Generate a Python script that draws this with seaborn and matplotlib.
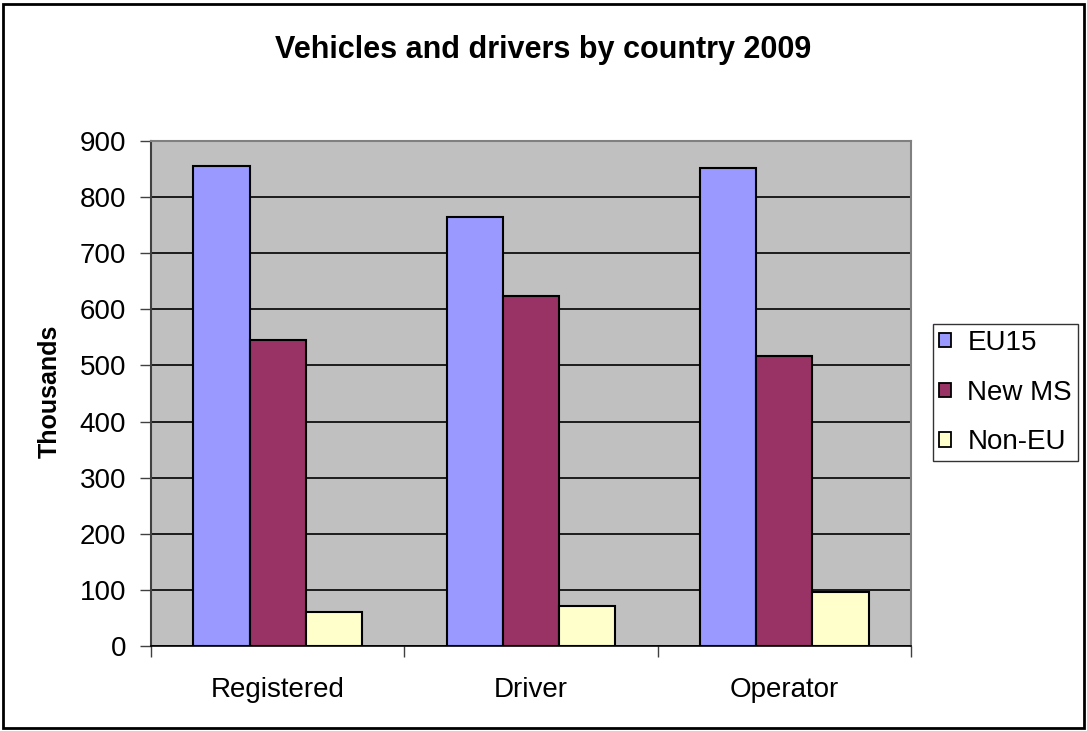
import matplotlib
matplotlib.use("Agg")
import matplotlib.pyplot as plt
from matplotlib.patches import Rectangle
import seaborn as sns
import pandas as pd

categories = ["Registered", "Driver", "Operator"]
series = ["EU15", "New MS", "Non-EU"]
eu15 = [855, 765, 851]
new_ms = [545, 623, 516]
non_eu = [60, 71, 96]
colors = ["#9999FF", "#993366", "#FFFFCC"]

rows = []
for name, vals in zip(series, [eu15, new_ms, non_eu]):
    for c, v in zip(categories, vals):
        rows.append({"category": c, "series": name, "value": v})
df = pd.DataFrame(rows)

sns.set_theme(style="white")
plt.rcParams['font.family'] = ['Liberation Sans', 'DejaVu Sans']
plt.rcParams['text.color'] = 'black'
plt.rcParams['axes.labelcolor'] = 'black'
plt.rcParams['xtick.color'] = 'black'
plt.rcParams['ytick.color'] = 'black'

fig = plt.figure(figsize=(10.87, 7.31), dpi=100)
ax = fig.add_axes([151/1087, 1-646/731, 760/1087, 505/731])
ax.set_facecolor("#C0C0C0")

sns.barplot(data=df, x="category", y="value", hue="series", order=categories,
            hue_order=series, palette=colors, width=2/3, gap=0,
            edgecolor="black", linewidth=1.5, saturation=1, ax=ax, zorder=3)

ax.set_ylim(0, 900)
ax.set_xlim(-0.5, 2.5)
ax.set_yticks(range(0, 901, 100))
ax.yaxis.grid(True, color="black", linewidth=1.2, zorder=0)
ax.set_axisbelow(True)
ax.tick_params(axis="y", labelsize=20, length=8, width=1, color="#404040",
               labelcolor="black", direction="out", left=True, pad=10)
ax.tick_params(axis="x", which="major", labelsize=20, length=0, pad=22, labelcolor="black")
ax.set_xticks([-0.5, 0.5, 1.5, 2.5], minor=True)
ax.tick_params(axis="x", which="minor", length=8, width=1, color="#404040", direction="out", bottom=True)
ax.set_xlabel("")
ax.set_ylabel("")

for s in ["top", "right"]:
    ax.spines[s].set_color("#808080")
    ax.spines[s].set_linewidth(1.5)
ax.spines["left"].set_color("#404040")
ax.spines["left"].set_linewidth(1.5)
ax.spines["bottom"].set_color("black")
ax.spines["bottom"].set_linewidth(1.2)

fig.text(50/1087, 1-391/731, "Thousands", rotation=90, ha="center", va="center",
         fontsize=18, fontweight="bold", color="black")

ax.legend_.remove()
handles = [Rectangle((0, 0), 1, 1, facecolor=c, edgecolor="black", linewidth=1.3) for c in colors]
leg = fig.legend(handles, series, loc="upper left", bbox_to_anchor=(933/1087, 1-324/731),
                 borderaxespad=0, fontsize=20, frameon=True, fancybox=False, edgecolor="black",
                 handlelength=0.42, handleheight=0.42, handletextpad=0.6,
                 labelspacing=0.85, borderpad=0.22)
leg.get_frame().set_linewidth(1.0)

fig.text(543/1087, 1-58/731, "Vehicles and drivers by country 2009", ha="center", va="baseline",
         fontsize=22, fontweight="bold", color="black")

fig.patches.append(Rectangle((3/1087, 3/731), 1081/1087, 724/731, transform=fig.transFigure,
                             fill=False, edgecolor="black", linewidth=2))

fig.savefig("out.png", dpi=100)
